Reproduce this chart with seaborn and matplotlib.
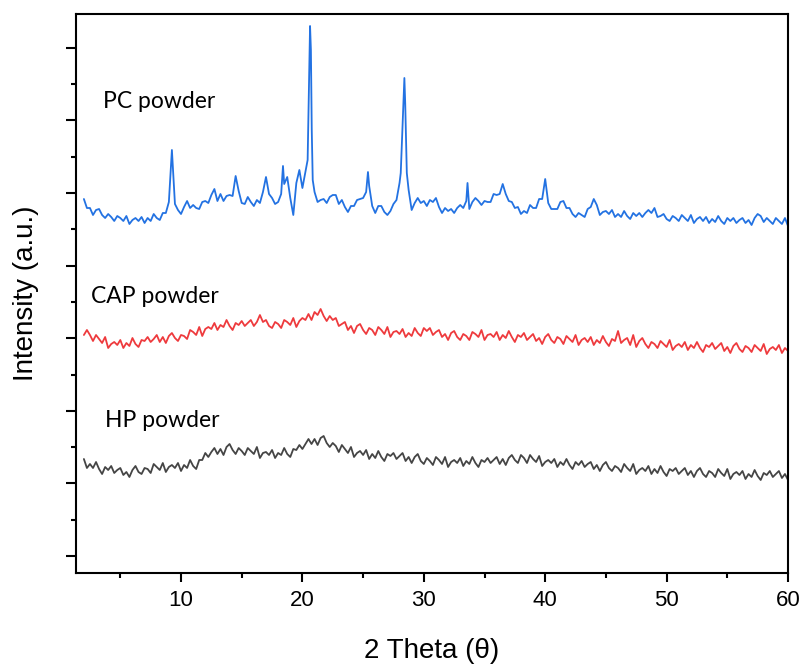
import numpy as np
import pandas as pd
import matplotlib
matplotlib.use("Agg")
import matplotlib.pyplot as plt
from matplotlib.ticker import MultipleLocator, NullFormatter
import seaborn as sns

# ---------------- data ----------------
two_theta = np.arange(2.0, 60.001, 0.25)  # sampling grid, 2θ in degrees

pc_intensity = [
    357, 348, 348, 341, 346, 347, 341, 338, 342, 339,
    335, 340, 338, 335, 340, 332, 336, 338, 335, 339,
    333, 338, 335, 342, 338, 336, 343, 343, 354, 406,
    352, 346, 342, 349, 355, 348, 351, 348, 347, 354,
    355, 353, 361, 367, 355, 362, 355, 360, 361, 360,
    380, 365, 353, 352, 359, 354, 350, 356, 353, 364,
    379, 362, 358, 352, 354, 362, 372, 379, 358, 341,
    373, 386, 368, 384, 443, 449, 364, 354, 356, 357,
    353, 359, 361, 361, 352, 356, 349, 344, 350, 350,
    356, 357, 358, 364, 370, 350, 343, 350, 350, 344,
    341, 345, 352, 356, 373, 431, 436, 366, 346, 353,
    358, 353, 355, 350, 356, 354, 358, 349, 343, 348,
    345, 347, 343, 348, 351, 348, 355, 347, 354, 358,
    355, 351, 355, 354, 354, 362, 361, 362, 372, 362,
    355, 354, 348, 349, 342, 345, 343, 351, 348, 348,
    357, 357, 377, 353, 347, 347, 347, 354, 355, 348,
    348, 342, 339, 343, 341, 339, 347, 349, 357, 351,
    341, 344, 345, 342, 346, 339, 342, 339, 345, 340,
    337, 343, 340, 343, 339, 343, 346, 343, 348, 339,
    340, 342, 337, 335, 340, 338, 335, 341, 338, 335,
    341, 333, 337, 339, 335, 339, 333, 337, 334, 340,
    335, 332, 338, 335, 338, 333, 336, 338, 333, 336,
    331, 338, 342, 340, 334, 338, 335, 332, 338, 335,
    332, 338, 330,
]
# sharp reflections of PC powder sampled between grid points
pc_peak_theta = [18.4, 20.43, 20.55, 20.63, 20.7, 20.77, 20.85, 25.4,
                 28.1, 28.33, 28.4, 28.47, 28.6, 33.6]
pc_peak_intensity = [390, 396, 476, 530, 506, 426, 376, 384,
                     383, 456, 478, 452, 383, 373]

cap_intensity = [
    221, 226, 221, 215, 221, 217, 213, 219, 208, 212,
    214, 211, 216, 208, 213, 210, 218, 212, 209, 216,
    215, 219, 214, 217, 221, 214, 219, 213, 220, 223,
    218, 215, 221, 220, 217, 226, 224, 221, 229, 220,
    227, 229, 227, 233, 226, 231, 229, 236, 230, 226,
    233, 231, 235, 230, 233, 236, 230, 234, 241, 234,
    236, 230, 228, 234, 232, 228, 236, 234, 231, 238,
    229, 235, 238, 236, 242, 236, 244, 241, 247, 240,
    235, 240, 236, 238, 230, 232, 234, 226, 230, 223,
    230, 232, 226, 222, 228, 226, 221, 229, 226, 222,
    229, 219, 224, 225, 222, 227, 219, 223, 220, 228,
    223, 220, 228, 225, 228, 221, 224, 226, 219, 222,
    216, 223, 225, 219, 216, 222, 220, 216, 224, 222,
    219, 226, 216, 221, 222, 219, 224, 216, 221, 218,
    225, 219, 214, 221, 219, 223, 216, 219, 222, 215,
    218, 212, 219, 222, 216, 213, 219, 217, 212, 220,
    217, 214, 221, 211, 216, 218, 214, 219, 211, 216,
    213, 220, 214, 210, 217, 215, 225, 213, 216, 218,
    211, 221, 209, 215, 218, 212, 208, 214, 212, 208,
    215, 212, 209, 216, 206, 210, 212, 209, 214, 206,
    211, 208, 214, 208, 204, 211, 209, 213, 207, 210,
    213, 205, 209, 203, 210, 213, 207, 204, 210, 208,
    204, 211, 208, 205, 212, 202, 207, 209, 206, 211,
    203, 208, 205,
]

hp_intensity = [
    97, 88, 92, 88, 94, 87, 82, 89, 86, 90,
    83, 86, 88, 81, 84, 79, 86, 90, 84, 82,
    88, 87, 83, 92, 89, 86, 93, 84, 89, 91,
    88, 93, 85, 91, 88, 96, 90, 87, 96, 96,
    103, 99, 104, 108, 102, 107, 101, 109, 112, 106,
    102, 108, 105, 101, 108, 105, 102, 109, 98, 103,
    104, 101, 106, 98, 103, 101, 108, 102, 99, 107,
    106, 111, 107, 112, 117, 112, 117, 111, 118, 120,
    113, 109, 113, 110, 104, 111, 107, 103, 109, 99,
    103, 105, 101, 106, 97, 102, 98, 105, 99, 95,
    102, 100, 103, 97, 100, 103, 95, 99, 93, 99,
    102, 95, 92, 98, 95, 91, 99, 96, 92, 99,
    89, 94, 96, 93, 98, 90, 95, 92, 99, 93,
    89, 96, 94, 98, 93, 96, 99, 92, 97, 91,
    98, 101, 96, 93, 101, 98, 93, 101, 97, 94,
    100, 90, 94, 96, 93, 97, 89, 94, 91, 97,
    91, 87, 94, 91, 95, 89, 92, 94, 87, 91,
    85, 91, 94, 88, 85, 90, 88, 84, 92, 88,
    85, 92, 82, 86, 88, 85, 90, 82, 87, 83,
    90, 84, 80, 87, 85, 88, 82, 85, 88, 81,
    85, 79, 85, 88, 82, 79, 85, 83, 79, 87,
    83, 80, 87, 77, 82, 84, 81, 85, 77, 82,
    79, 86, 80, 76, 83, 81, 85, 79, 82, 85,
    78, 82, 76,
]

sample_names = ["PC powder", "CAP powder", "HP powder"]
sample_colors = ["#2372E2", "#EE3A3D", "#454545"]
# label anchor (2θ, intensity) for each sample name
label_theta = [3.55, 2.62, 3.72]
label_intensity = [448, 253, 129]

# ---------------- table ----------------
frames = [
    pd.DataFrame({"theta": np.concatenate([two_theta, pc_peak_theta]),
                  "intensity": np.concatenate([pc_intensity, pc_peak_intensity]),
                  "sample": sample_names[0]}),
    pd.DataFrame({"theta": two_theta, "intensity": cap_intensity,
                  "sample": sample_names[1]}),
    pd.DataFrame({"theta": two_theta, "intensity": hp_intensity,
                  "sample": sample_names[2]}),
]
df = pd.concat(frames, ignore_index=True)

# ---------------- figure ----------------
sns.set_theme(style="ticks")
plt.rcParams["font.family"] = ["Liberation Sans", "DejaVu Sans"]

fig = plt.figure(figsize=(8.02, 6.64), dpi=100)
ax = fig.add_axes([76 / 802, 1 - 573 / 664, 712 / 802, 559 / 664])

sns.lineplot(data=df, x="theta", y="intensity", hue="sample",
             hue_order=sample_names, palette=sample_colors,
             estimator=None, sort=True, linewidth=1.3, legend=False, ax=ax)

for name, tx, ty in zip(sample_names, label_theta, label_intensity):
    ax.text(tx, ty, name, fontsize=16.5, family=["Lato", "DejaVu Sans"],
            ha="left", va="baseline", color="black")

ax.set_xlim(1.35, 60)
ax.set_ylim(-17, 542)

ax.xaxis.set_major_locator(MultipleLocator(10))
ax.xaxis.set_minor_locator(MultipleLocator(5))
ax.yaxis.set_major_locator(MultipleLocator(72.6))
ax.yaxis.set_minor_locator(MultipleLocator(36.3))
ax.yaxis.set_major_formatter(NullFormatter())

for sp in ax.spines.values():
    sp.set_visible(True)
    sp.set_color("black")
    sp.set_linewidth(1.5)

ax.tick_params(axis="both", which="both", direction="out", color="black",
               width=1.5, top=False, right=False)
ax.tick_params(axis="x", which="major", length=6.5, labelsize=16, pad=6)
ax.tick_params(axis="x", which="minor", length=3.5)
ax.tick_params(axis="y", which="major", length=7)
ax.tick_params(axis="y", which="minor", length=3.5)
for lab in ax.get_xticklabels():
    lab.set_color("black")

ax.set_xlabel("2 Theta (θ)", fontsize=20, color="black", va="center")
ax.xaxis.set_label_coords(0.5, -0.14)
ax.set_ylabel("Intensity (a.u.)", fontsize=20, color="black", va="center")
ax.yaxis.set_label_coords(-0.070, 0.5)

fig.savefig("out.png", dpi=100)
